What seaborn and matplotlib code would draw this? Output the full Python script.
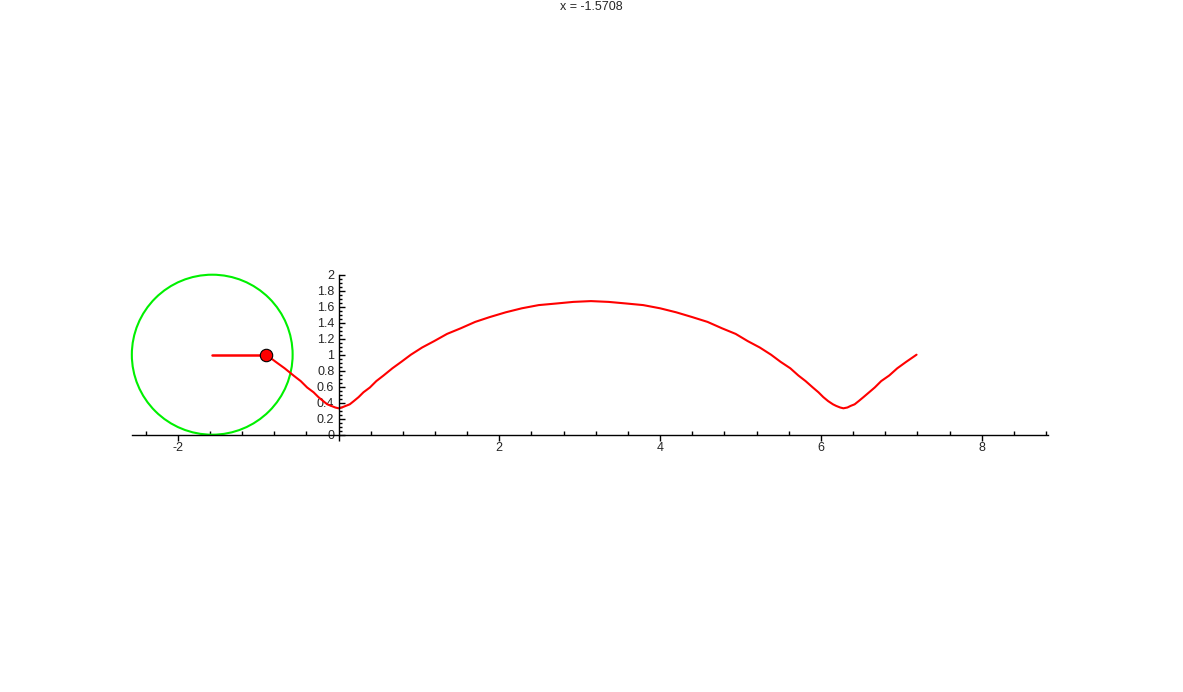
import numpy as np
import pandas as pd
import matplotlib
matplotlib.use('Agg')
import matplotlib.pyplot as plt
import seaborn as sns
from matplotlib.patches import Circle
from matplotlib.ticker import MultipleLocator, FixedLocator

# data
title_text = 'x = -1.5708'
wheel_center = (-1.5708, 1.0)
wheel_radius = 1.0
pen_point = (-0.904, 1.0)

curve_x = [-0.90, -0.78, -0.67, -0.56, -0.47, -0.39, -0.31, -0.25, -0.19, -0.14,
           -0.09, -0.04, 0.00, 0.04, 0.09, 0.14, 0.19, 0.25, 0.31, 0.39,
           0.47, 0.56, 0.67, 0.78, 0.90, 1.04, 1.19, 1.35, 1.52, 1.70,
           1.88, 2.08, 2.28, 2.49, 2.71, 2.92, 3.14, 3.36, 3.58, 3.79,
           4.00, 4.20, 4.40, 4.59, 4.77, 4.94, 5.09, 5.24, 5.38, 5.50,
           5.62, 5.72, 5.81, 5.90, 5.97, 6.03, 6.09, 6.15, 6.19, 6.24,
           6.28, 6.33, 6.37, 6.42, 6.47, 6.53, 6.60, 6.67, 6.75, 6.85,
           6.95, 7.06, 7.19]
curve_y = [1.00, 0.91, 0.83, 0.74, 0.67, 0.59, 0.53, 0.47, 0.42, 0.38,
           0.36, 0.34, 0.33, 0.34, 0.36, 0.38, 0.42, 0.47, 0.53, 0.59,
           0.67, 0.74, 0.83, 0.91, 1.00, 1.09, 1.17, 1.26, 1.33, 1.41,
           1.47, 1.53, 1.58, 1.62, 1.64, 1.66, 1.67, 1.66, 1.64, 1.62,
           1.58, 1.53, 1.47, 1.41, 1.33, 1.26, 1.17, 1.09, 1.00, 0.91,
           0.83, 0.74, 0.67, 0.59, 0.53, 0.47, 0.42, 0.38, 0.36, 0.34,
           0.33, 0.34, 0.36, 0.38, 0.42, 0.47, 0.53, 0.59, 0.67, 0.74,
           0.83, 0.91, 1.00]

x_ticks = [-2, 0, 2, 4, 6, 8]
x_labels = ['-2', '', '2', '4', '6', '8']
y_ticks = [0, 0.2, 0.4, 0.6, 0.8, 1, 1.2, 1.4, 1.6, 1.8, 2]
y_labels = ['0', '0.2', '0.4', '0.6', '0.8', '1', '1.2', '1.4', '1.6', '1.8', '2']

sns.set_style('white')
plt.rcParams['font.family'] = ['Liberation Sans', 'DejaVu Sans']

W, H = 1183, 692
fig = plt.figure(figsize=(W / 100, H / 100), dpi=100)
# axes placed so that 1 unit ~ 80 px, origin at pixel (338.5, 434.7)
ax = fig.add_axes([131.9 / W, (H - 474.7) / H, 916.5 / W, 216 / H])
ax.set_xlim(-2.57, 8.83)
ax.set_ylim(-0.5, 2.2)

# the curve
df = pd.DataFrame({'x': curve_x, 'y': curve_y})
sns.lineplot(data=df, x='x', y='y', sort=False, estimator=None,
             color='#ff0000', linewidth=1.5, ax=ax)

# arm from wheel centre to pen point
arm = pd.DataFrame({'x': [wheel_center[0], pen_point[0]],
                    'y': [wheel_center[1], pen_point[1]]})
sns.lineplot(data=arm, x='x', y='y', sort=False, estimator=None,
             color='#ff0000', linewidth=1.8, ax=ax)

# wheel
ax.add_patch(Circle(wheel_center, wheel_radius, fill=False,
                    edgecolor='#00f000', linewidth=1.5, clip_on=False))

# pen point
sns.scatterplot(x=[pen_point[0]], y=[pen_point[1]], color='#ff0000',
                edgecolor='black', linewidth=0.8, s=80, zorder=5, ax=ax)

# axes through the origin
for side in ['top', 'right']:
    ax.spines[side].set_visible(False)
ax.spines['left'].set_position(('data', 0))
ax.spines['bottom'].set_position(('data', 0))
ax.spines['left'].set_bounds(0, 2)
ax.spines['bottom'].set_bounds(-2.57, 8.83)
for side in ['left', 'bottom']:
    ax.spines[side].set_color('black')
    ax.spines[side].set_linewidth(1.0)

ax.set_xticks(x_ticks)
ax.set_xticklabels(x_labels)
ax.set_yticks(y_ticks)
ax.set_yticklabels(y_labels)
ax.xaxis.set_minor_locator(MultipleLocator(0.4))
ax.yaxis.set_minor_locator(FixedLocator([i * 0.05 for i in range(41)]))

ax.tick_params(axis='x', which='major', bottom=True, direction='out',
               length=4, width=1, color='black', labelsize=9, pad=1)
ax.tick_params(axis='x', which='minor', bottom=True, direction='in',
               length=3, width=1, color='black')
ax.tick_params(axis='y', which='major', left=True, direction='in',
               length=4, width=1, color='black', labelsize=9, pad=3)
ax.tick_params(axis='y', which='minor', left=True, direction='in',
               length=2, width=1, color='black')
ax.set_xlabel('')
ax.set_ylabel('')

fig.text(0.5, 1 - 7 / H, title_text, ha='center', va='center', fontsize=9)

fig.savefig('out.png', dpi=100)
